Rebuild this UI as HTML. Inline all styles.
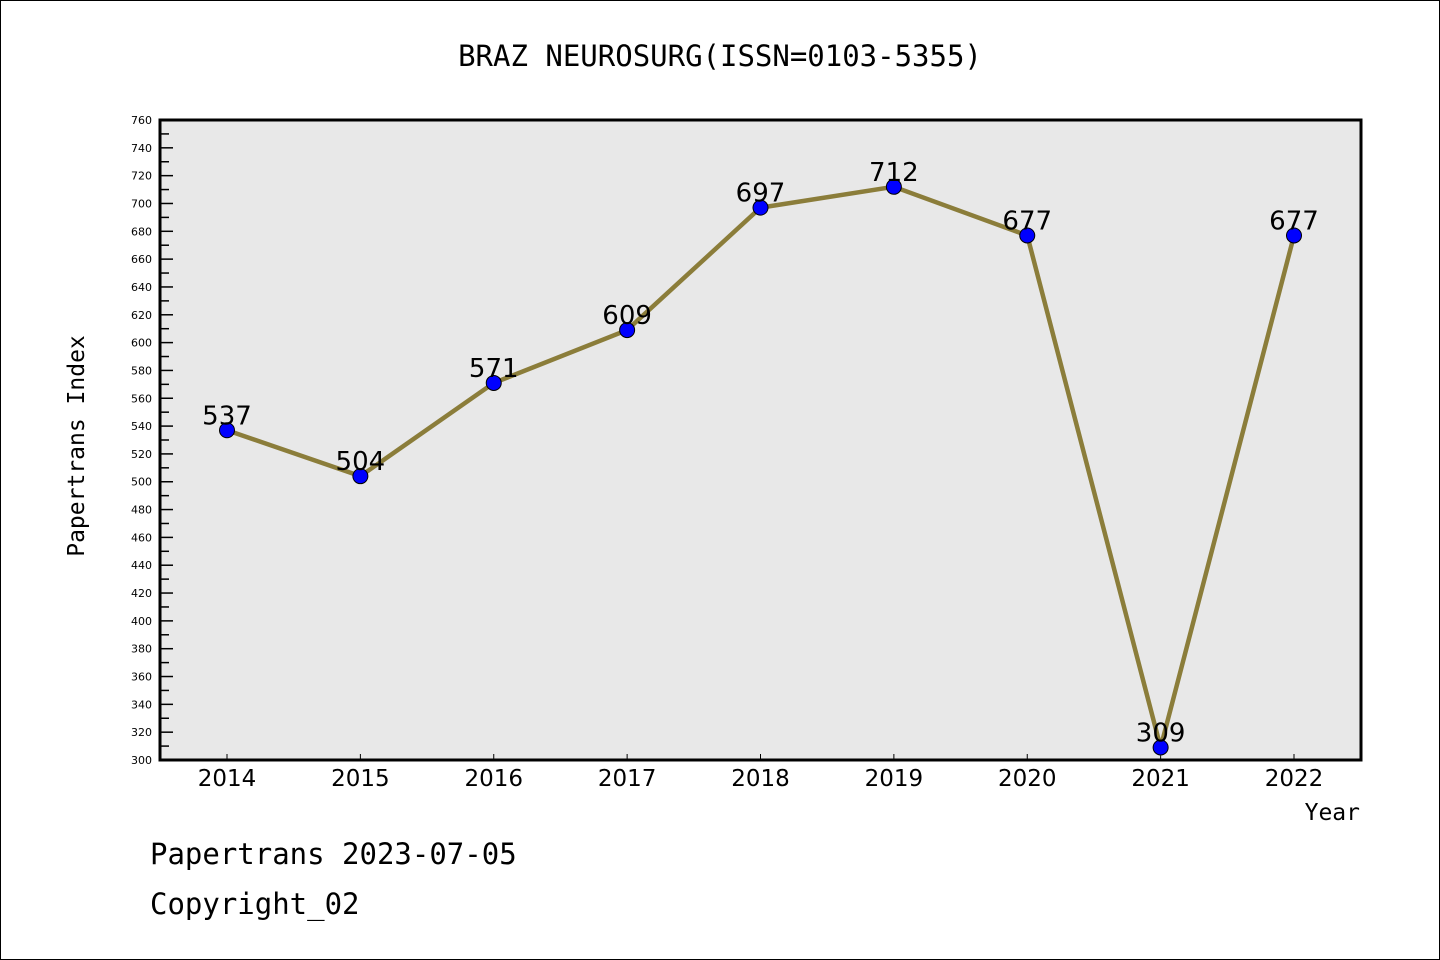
<!DOCTYPE html>
<html><head><meta charset="utf-8"><style>
html,body{margin:0;padding:0;background:#fff}
svg{display:block}
.mono{font-family:"DejaVu Sans Mono","Liberation Mono",monospace}
.sans{font-family:"DejaVu Sans","Liberation Sans",sans-serif}
</style></head><body>
<svg id="chart" width="1440" height="960" xmlns="http://www.w3.org/2000/svg">
<rect x="0.5" y="0.5" width="1439" height="959" fill="#fff" stroke="#000"/>
<text class="mono" x="720" y="66" text-anchor="middle" font-size="29">BRAZ NEUROSURG(ISSN=0103-5355)</text>
<rect x="160" y="120" width="1201" height="640" fill="#e8e8e8"/>
<g id="yaxis"></g>
<g id="xaxis"></g>
<g id="series"></g>
<rect x="160" y="120" width="1201" height="640" fill="none" stroke="#000" stroke-width="3"/>
<text class="mono" x="0" y="0" transform="translate(84,446) rotate(-90)" text-anchor="middle" font-size="23">Papertrans Index</text>
<text class="mono" x="1360" y="820" text-anchor="end" font-size="23">Year</text>
<text class="mono" x="150" y="864" font-size="29">Papertrans 2023-07-05</text>
<text class="mono" x="150" y="914" font-size="29">Copyright_02</text>
</svg>
<script>
const years=["2014","2015","2016","2017","2018","2019","2020","2021","2022"];
const values=[537,504,571,609,697,712,677,309,677];
const yMin=300,yMax=760,yStep=20;
const NS="http://www.w3.org/2000/svg";
const X0=227,X1=1294,PT=120,PB=760;
function xs(i){return X0+(X1-X0)*i/(years.length-1);}
function ys(v){return PB-(v-yMin)/(yMax-yMin)*(PB-PT);}
function mk(tag,attrs,parent){const e=document.createElementNS(NS,tag);for(const k in attrs)e.setAttribute(k,attrs[k]);parent.appendChild(e);return e;}
const ya=document.getElementById('yaxis'),xa=document.getElementById('xaxis'),sr=document.getElementById('series');
for(let v=yMin;v<=yMax;v+=yStep/2){
  const major=(v-yMin)%yStep===0;
  const t=mk('line',{x1:160,x2:major?173:169,y1:ys(v),y2:ys(v),stroke:'#000','stroke-width':1.5},ya);
  
  
  if(major){
    const l=mk('text',{x:152,y:ys(v)+4,'text-anchor':'end','font-size':11,'class':'sans'},ya);
    l.textContent=v;
    
    
  }
}
years.forEach((y,i)=>{
  const t=mk('line',{x1:xs(i),x2:xs(i),y1:754,y2:760,stroke:'#000','stroke-width':1},xa);
  
  
  const l=mk('text',{x:xs(i),y:786,'text-anchor':'middle','font-size':23,'class':'sans'},xa);
  l.textContent=y;
  
  
});
const pl=mk('polyline',{points:values.map((v,i)=>xs(i)+','+ys(v)).join(' '),fill:'none',stroke:'#8b7d3a','stroke-width':4.5},sr);


values.forEach((v,i)=>{
  const c=mk('circle',{cx:xs(i),cy:ys(v),r:7.5,fill:'#0000ff',stroke:'#000','stroke-width':1},sr);
  
  
  const l=mk('text',{x:xs(i),y:ys(v)-6,'text-anchor':'middle','font-size':26,'class':'sans'},sr);
  l.textContent=v;
  
  
});
</script>
</body></html>
